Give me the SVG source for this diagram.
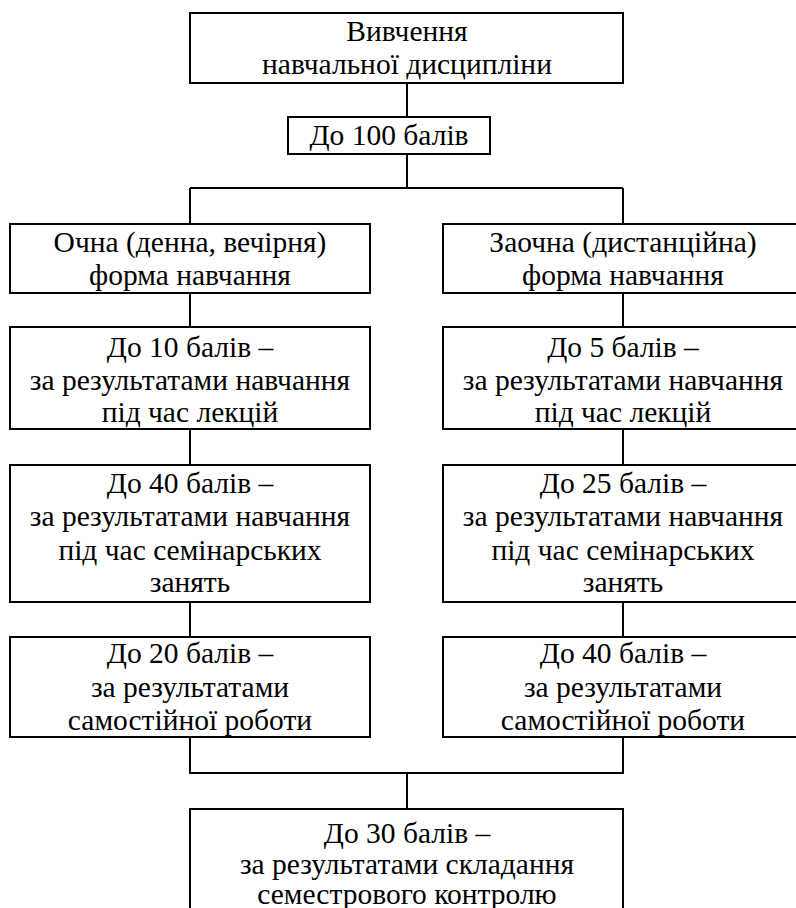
<svg xmlns="http://www.w3.org/2000/svg" width="796" height="908" viewBox="0 0 796 908">
<style>
.box{fill:#fff;stroke:#000;stroke-width:2}
.con{fill:none;stroke:#000;stroke-width:2}
text{font-family:'Liberation Serif','Times New Roman',serif;font-size:29.5px;fill:#000;text-anchor:middle}
</style>
<rect width="796" height="908" fill="#fff"/>
<g id="connectors" class="con">
<path d="M407 83V117"/>
<path d="M407 154V188M190 188H623M190 188V224M623 188V224"/>
<path d="M190 293V327M623 293V327"/>
<path d="M190 429V465M623 429V465"/>
<path d="M190 602V637M623 602V637"/>
<path d="M190 737V773H623V737M407 773V809"/>
</g>
<g id="n-top"><rect class="box" x="190" y="13" width="433" height="70"/><text x="407" y="41">Вивчення</text><text x="407" y="74">навчальної дисципліни</text></g>
<g id="n-100"><rect class="box" x="288" y="117" width="202" height="37"/><text x="389" y="145">До 100 балів</text></g>
<g id="n-ochna"><rect class="box" x="10" y="224" width="360" height="69"/><text x="190" y="252">Очна (денна, вечірня)</text><text x="190" y="285">форма навчання</text></g>
<g id="n-zaochna"><rect class="box" x="443" y="224" width="360" height="69"/><text x="623" y="252">Заочна (дистанційна)</text><text x="623" y="285">форма навчання</text></g>
<g id="n-l-lect"><rect class="box" x="10" y="327" width="360" height="102"/><text x="190" y="357">До 10 балів –</text><text x="190" y="390">за результатами навчання</text><text x="190" y="422">під час лекцій</text></g>
<g id="n-r-lect"><rect class="box" x="443" y="327" width="360" height="102"/><text x="623" y="357">До 5 балів –</text><text x="623" y="390">за результатами навчання</text><text x="623" y="422">під час лекцій</text></g>
<g id="n-l-sem"><rect class="box" x="10" y="465" width="360" height="137"/><text x="190" y="493">До 40 балів –</text><text x="190" y="526">за результатами навчання</text><text x="190" y="560">під час семінарських</text><text x="190" y="592">занять</text></g>
<g id="n-r-sem"><rect class="box" x="443" y="465" width="360" height="137"/><text x="623" y="493">До 25 балів –</text><text x="623" y="526">за результатами навчання</text><text x="623" y="560">під час семінарських</text><text x="623" y="592">занять</text></g>
<g id="n-l-self"><rect class="box" x="10" y="637" width="360" height="100"/><text x="190" y="663">До 20 балів –</text><text x="190" y="697">за результатами</text><text x="190" y="730">самостійної роботи</text></g>
<g id="n-r-self"><rect class="box" x="443" y="637" width="360" height="100"/><text x="623" y="663">До 40 балів –</text><text x="623" y="697">за результатами</text><text x="623" y="730">самостійної роботи</text></g>
<g id="n-sem-control"><rect class="box" x="190" y="809" width="433" height="110"/><text x="407" y="843">До 30 балів –</text><text x="407" y="874">за результатами складання</text><text x="407" y="904">семестрового контролю</text></g>
</svg>
